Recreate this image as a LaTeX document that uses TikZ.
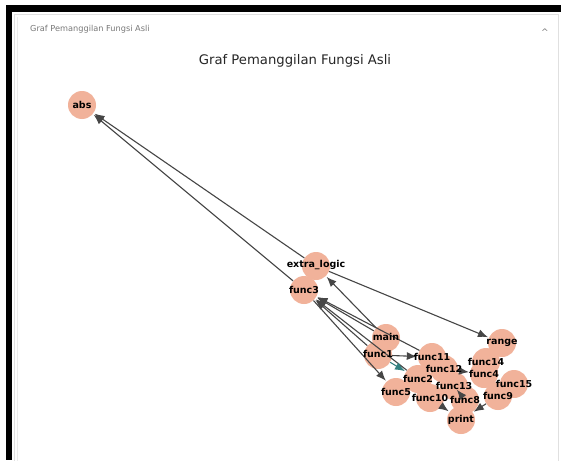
\documentclass[tikz,border=0pt]{standalone}
\usepackage{fontspec}
\setmainfont{DejaVu Sans}
\usetikzlibrary{arrows.meta}
\definecolor{nodefill}{RGB}{241,178,154}
\definecolor{edgegray}{RGB}{70,70,70}
\definecolor{panelline}{RGB}{224,224,224}
\definecolor{headgray}{RGB}{120,120,120}
\begin{document}
\begin{tikzpicture}[x=1pt,y=-1pt,
  fn/.style={circle,fill=nodefill,draw=none,minimum size=28pt,inner sep=0pt},
  fnlabel/.style={font=\bfseries\fontsize{9.5}{9.5}\selectfont,text=black,inner sep=0pt},
  call/.style={draw=edgegray,line width=1.1pt,-{Latex[length=10pt,width=8pt]},shorten >=1pt}]
  % page and panel frame
  \useasboundingbox (0,0) rectangle (561,460);
  \fill[white] (0,0) rectangle (561,460);
  \fill[black] (6,5) rectangle (561,12);
  \fill[black] (6,5) rectangle (12,460);
  \draw[panelline,line width=0.8pt] (14,470) -- (14,14) -- (558,14) -- (558,470);
  \draw[panelline!60,line width=0.6pt] (17,470) -- (17,17);
  \node[font=\fontsize{8.2}{8.2}\selectfont,text=headgray,anchor=west,inner sep=0pt] (hdr) at (30,29) {Graf Pemanggilan Fungsi Asli};
  \node[font=\fontsize{9}{9}\selectfont,text=headgray,inner sep=0pt] (caret) at (545,32) {\^{}};
  \node[font=\fontsize{13.2}{13.2}\selectfont,text=black!85,inner sep=0pt] (title) at (295,61) {Graf Pemanggilan Fungsi Asli};

  % function nodes
  \node[fn] (abs) at (82,105) {};
  \node[fn] (extra) at (316,266) {};
  \node[fn] (func3) at (304,290) {};
  \node[fn] (main) at (386,338) {};
  \node[fn] (func1) at (378,355) {};
  \node[fn] (range) at (502,343) {};
  \node[fn] (func11) at (432,357) {};
  \node[fn] (func12) at (444,369) {};
  \node[fn] (func14) at (486,362) {};
  \node[fn] (func4) at (484,374) {};
  \node[fn] (func2) at (418,379) {};
  \node[fn] (func15) at (514,384) {};
  \node[fn] (func13) at (454,386) {};
  \node[fn] (func8) at (465,400) {};
  \node[fn] (func9) at (498,396) {};
  \node[fn] (func10) at (430,398) {};
  \node[fn] (func5) at (396,392) {};
  \node[fn] (print) at (461,420) {};

  % calls
  \draw[call] (extra) -- (abs);
  \draw[call] (func3) -- (abs);
  \draw[call] (extra) -- (range);
  \draw[call] (main) -- (extra);
  \draw[call] (main) -- (func3);
  \draw[call] (func1) -- (func3);
  \draw[call] (func11) -- (func3);
  \draw[call] (func2) -- (func3);
  \draw[call] (func3) -- (func5);
  \draw[call] (func1) -- (func11);
  \draw[call,draw=teal!60!gray] (func1) -- (func2);
  \draw[call] (func12) -- (func4);
  \draw[call] (func13) -- (func8);
  \draw[call] (func10) -- (print);
  \draw[call] (func9) -- (print);

  % labels on top
  \node[fnlabel] at (abs) {abs};
  \node[fnlabel] at ([yshift=1pt]extra) {extra\_logic};
  \node[fnlabel] at (func3) {func3};
  \node[fnlabel] at ([yshift=1pt]main) {main};
  \node[fnlabel] at ([yshift=1pt]func1) {func1};
  \node[fnlabel] at (range) {range};
  \node[fnlabel] at (func11) {func11};
  \node[fnlabel] at (func12) {func12};
  \node[fnlabel] at (func14) {func14};
  \node[fnlabel] at (func4) {func4};
  \node[fnlabel] at (func2) {func2};
  \node[fnlabel] at (func15) {func15};
  \node[fnlabel] at (func13) {func13};
  \node[fnlabel] at (func8) {func8};
  \node[fnlabel] at (func9) {func9};
  \node[fnlabel] at (func10) {func10};
  \node[fnlabel] at (func5) {func5};
  \node[fnlabel] at (print) {print};
\end{tikzpicture}
\end{document}
